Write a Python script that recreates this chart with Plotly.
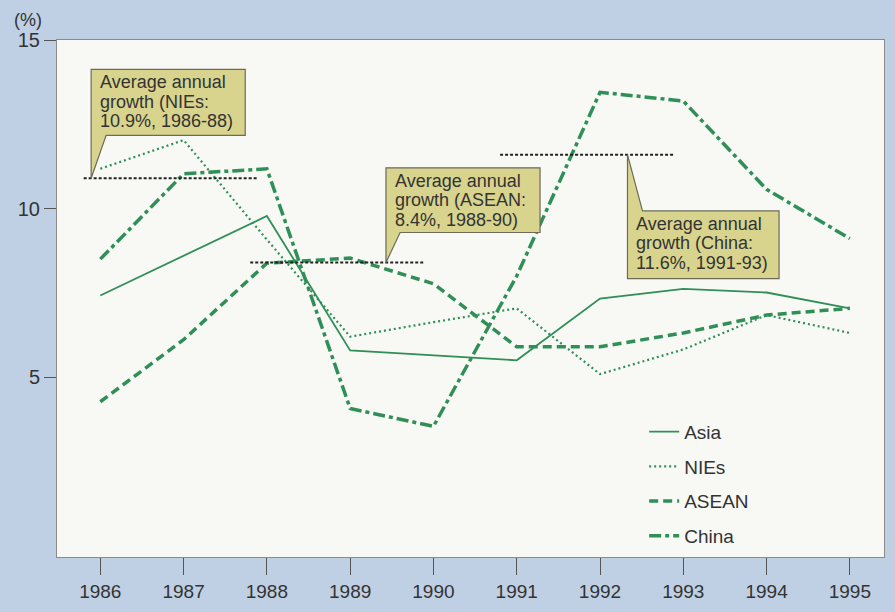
import plotly.graph_objects as go

# ---- data ----
years = [1986, 1987, 1988, 1989, 1990, 1991, 1992, 1993, 1994, 1995]
asia  = [7.42, 8.60, 9.78, 5.79, 5.64, 5.50, 7.33, 7.62, 7.51, 7.04]
nies  = [11.18, 12.03, 9.08, 6.20, 6.63, 7.04, 5.09, 5.82, 6.84, 6.31]
asean = [4.27, 6.11, 8.38, 8.53, 7.77, 5.90, 5.90, 6.31, 6.84, 7.04]
china = [8.50, 11.03, 11.18, 4.07, 3.54, 8.00, 13.45, 13.19, 10.57, 9.11]

avg_names  = ["NIEs", "ASEAN", "China"]
avg_values = [10.9, 8.4, 11.6]
avg_start  = [1986, 1988, 1991]
avg_end    = [1988, 1990, 1993]
avg_text = [
    ["Average annual", "growth (NIEs:", "10.9%, 1986-88)"],
    ["Average annual", "growth (ASEAN:", "8.4%, 1988-90)"],
    ["Average annual", "growth (China:", "11.6%, 1991-93)"],
]
y_ticks = [5, 10, 15]

# ---- style ----
GREEN = "#2f8f57"
BOX_FILL = "#d8d48e"
BOX_LINE = "#6b6b58"
FONT = "Liberation Sans, Arial, sans-serif"

fig = go.Figure()

series = [
    ("Asia", asia, dict(color=GREEN, width=1.8, dash="solid")),
    ("NIEs", nies, dict(color=GREEN, width=2.2, dash="2px,3px")),
    ("ASEAN", asean, dict(color=GREEN, width=3.5, dash="9px,5px")),
    ("China", china, dict(color=GREEN, width=3.5, dash="12px,4px,4px,4px")),
]
for i, (name, vals, line) in enumerate(series):
    fig.add_trace(go.Scatter(x=years, y=vals, mode="lines", name=name,
                             line=line, legendgroup=str(i)))

# average lines (drawn slightly left of the period, as in the original)
for v, s, e in zip(avg_values, avg_start, avg_end):
    fig.add_trace(go.Scatter(x=[s - 0.2, e - 0.12], y=[v, v], mode="lines",
                             line=dict(color="#222222", width=2, dash="3px,2px"),
                             showlegend=False, hoverinfo="skip"))

# callout boxes: (x0, x1, y_bottom, y_top, wedge width, wedge direction)
boxes = [
    dict(x0=1985.89, x1=1987.74, yb=12.17, yt=14.13, w=0.18, down=True),
    dict(x0=1989.43, x1=1991.28, yb=9.29, yt=11.21, w=0.17, down=True),
    dict(x0=1992.33, x1=1994.15, yb=7.92, yt=9.93, w=0.18, down=False),
]
shapes = []
annotations = []
for b, v, lines in zip(boxes, avg_values, avg_text):
    if b["down"]:
        path = (f"M {b['x0']},{b['yt']} L {b['x1']},{b['yt']} L {b['x1']},{b['yb']} "
                f"L {b['x0'] + b['w']},{b['yb']} L {b['x0']},{v} Z")
    else:
        path = (f"M {b['x0']},{b['yb']} L {b['x1']},{b['yb']} L {b['x1']},{b['yt']} "
                f"L {b['x0'] + b['w']},{b['yt']} L {b['x0']},{v} Z")
    shapes.append(dict(type="path", xref="x", yref="y", path=path,
                       fillcolor=BOX_FILL, line=dict(color=BOX_LINE, width=1.2),
                       layer="above"))
    for k, t in enumerate(lines):
        annotations.append(dict(x=b["x0"], y=b["yt"], xref="x", yref="y",
                                text=t, showarrow=False, xanchor="left", yanchor="top",
                                xshift=7, yshift=-1 - 19.5 * k,
                                font=dict(size=18, color="#333333", family=FONT)))

annotations.append(dict(x=-0.035, y=1.038, xref="paper", yref="paper", text="(%)",
                        showarrow=False, xanchor="center", yanchor="middle",
                        font=dict(size=18, color="#333333", family=FONT)))

fig.update_layout(
    width=895, height=612,
    margin=dict(l=57, r=10, t=40, b=46),
    paper_bgcolor="#bfd0e4",
    plot_bgcolor="#f8f8f5",
    font=dict(family=FONT, color="#333333"),
    shapes=shapes,
    annotations=annotations,
    legend=dict(x=0.71, y=0.279, xanchor="left", yanchor="top",
                bgcolor="rgba(0,0,0,0)", tracegroupgap=7,
                font=dict(size=19, color="#333333", family=FONT)),
)
fig.update_xaxes(range=[1985.48, 1995.41], tickvals=years,
                 ticktext=[str(y) for y in years],
                 ticks="outside", ticklen=17, tickcolor="#555555", tickwidth=1,
                 tickfont=dict(size=19, color="#333333"),
                 showgrid=False, zeroline=False,
                 showline=True, linecolor="#8a8a8a", linewidth=1, mirror=True)
fig.update_yaxes(range=[-0.335, 15], tickvals=y_ticks,
                 ticks="outside", ticklen=12, tickcolor="#555555", tickwidth=1,
                 tickfont=dict(size=20, color="#333333"),
                 showgrid=False, zeroline=False,
                 showline=True, linecolor="#8a8a8a", linewidth=1, mirror=True)

fig.write_html("out.html")
